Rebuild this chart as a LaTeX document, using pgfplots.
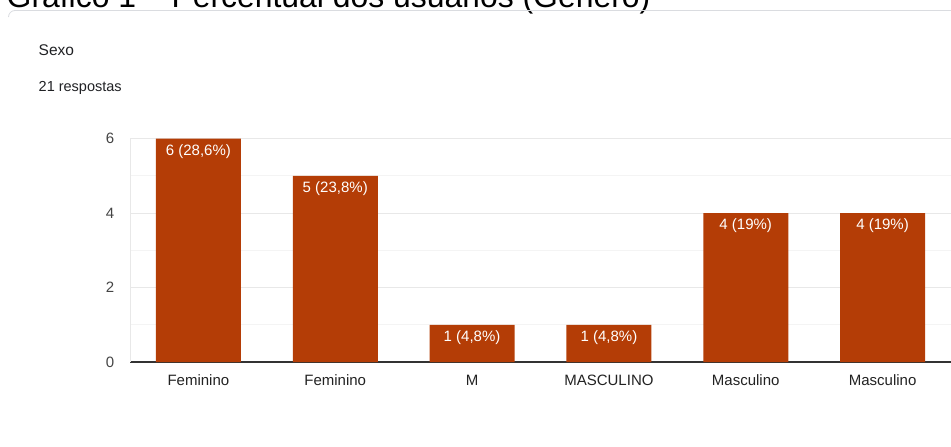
\documentclass[border=0pt]{standalone}
\usepackage{pgfplots}
\usepackage{pgfplotstable}
\pgfplotsset{compat=1.18}
\usepackage{fontspec}
\setmainfont{Liberation Sans}
\definecolor{barc}{RGB}{180,61,6}
\definecolor{gridmaj}{RGB}{232,232,232}
\definecolor{gridmin}{RGB}{244,244,244}
\definecolor{axisdark}{RGB}{51,51,51}
\definecolor{ticktxt}{RGB}{68,68,68}
\definecolor{labtxt}{RGB}{34,34,34}
\definecolor{cardgray}{RGB}{218,220,224}
\definecolor{headtxt}{RGB}{32,33,36}
\pgfplotstableread[col sep=semicolon]{
x;y;label
0;6;6 (28,6\%)
1;5;5 (23,8\%)
2;1;1 (4,8\%)
3;1;1 (4,8\%)
4;4;4 (19\%)
5;4;4 (19\%)
}\sexdata
\begin{document}
\begin{tikzpicture}
\useasboundingbox (0pt,0pt) rectangle (951pt,-447pt);
\begin{scope}
\clip (0pt,0pt) rectangle (951pt,-447pt);
\node[anchor=base west, inner sep=0pt, text=black] at (6.5pt,-7.5pt) {\fontsize{31.9}{37}\selectfont Gráfico 1 – Percentual dos usuários (Gênero)};
\end{scope}
\draw[cardgray, line width=0.8pt] (8.5pt,-17pt) to[out=90,in=180] (15pt,-10.5pt) -- (951pt,-10.5pt);
\node[anchor=base west, inner sep=0pt, text=headtxt] at (38.5pt,-55.7pt) {\fontsize{15.5}{18}\selectfont Sexo};
\node[anchor=base west, inner sep=0pt, text=headtxt] at (38.5pt,-91pt) {\fontsize{14.5}{17}\selectfont 21 respostas};
\begin{axis}[
  at={(130pt,-362pt)}, anchor=south west,
  scale only axis, width=821pt, height=223.5pt,
  xmin=-0.5, xmax=5.5, ymin=0, ymax=6,
  xtick={0,1,2,3,4,5},
  xticklabels={Feminino,Feminino,M,MASCULINO,Masculino,Masculino},
  ytick={0,2,4,6}, minor ytick={1,3,5},
  ymajorgrids, yminorgrids,
  major grid style={draw=gridmaj, line width=0.9pt},
  minor grid style={draw=gridmin, line width=0.9pt},
  axis lines*=left,
  x axis line style={draw=axisdark, line width=1.3pt, -},
  y axis line style={draw=gridmaj, line width=0.9pt, -},
  major tick length=0pt, minor tick length=0pt,
  tick style={draw=none},
  /pgf/number format/assume math mode=true,
  yticklabel style={anchor=east, inner sep=0pt, xshift=-15.5pt, text=ticktxt, font=\fontsize{15}{18}\selectfont},
  xticklabel style={anchor=base, inner sep=0pt, yshift=-23pt, text=labtxt, font=\fontsize{15}{18}\selectfont},
  clip=false,
]
\addplot[ybar, bar width=85pt, fill=barc, draw=none,
  point meta=explicit symbolic,
  nodes near coords,
  nodes near coords style={anchor=base, inner sep=0pt, yshift=-16.5pt, text=white, font=\fontsize{15}{18}\selectfont},
] table[x=x, y=y, meta=label] {\sexdata};
\end{axis}
\end{tikzpicture}
\end{document}
